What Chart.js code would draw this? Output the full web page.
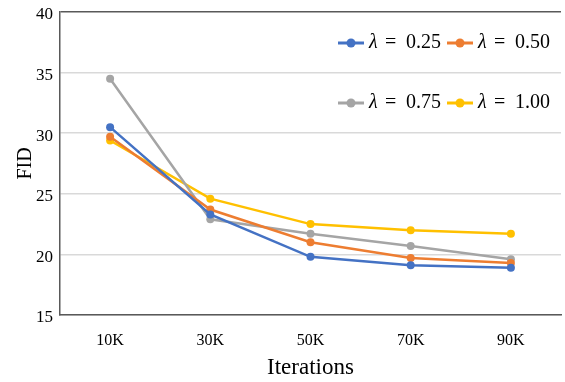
<!DOCTYPE html>
<html lang="en">
<head>
    <meta charset="UTF-8">
    <title>FID vs Iterations</title>
    <script src="https://cdn.jsdelivr.net/npm/chart.js"></script>
    <style>
        html, body {
            margin: 0;
            padding: 0;
            width: 565px;
            height: 382px;
            background: #ffffff;
            overflow: hidden;
        }
    </style>
</head>
<body>
    <canvas id="fidChart" width="565" height="382"></canvas>
    <script>
        const iterations = ['10K', '30K', '50K', '70K', '90K'];
        const lambdaLabels = ['0.25', '0.50', '0.75', '1.00'];
        const fid025 = [30.5, 23.3, 19.8, 19.1, 18.9];
        const fid050 = [29.7, 23.7, 21.0, 19.7, 19.3];
        const fid075 = [34.5, 22.9, 21.7, 20.7, 19.6];
        const fid100 = [29.4, 24.6, 22.5, 22.0, 21.7];
        const yTicks = [15, 20, 25, 30, 35, 40];

        const colors = ['#4472C4', '#ED7D31', '#A5A5A5', '#FFC000'];
        const series = [fid025, fid050, fid075, fid100];

        const serif = "'Liberation Serif', 'Times New Roman', serif";

        // legend drawn inside the plot, two rows at the top right
        const insideLegend = {
            id: 'insideLegend',
            afterDatasetsDraw(chart) {
                const c = chart.ctx;
                const area = chart.chartArea;
                const rows = [[0, 1], [2, 3]];
                const rowY = [area.top + 31, area.top + 91];
                const colX = [area.left + 278, area.left + 387];
                c.save();
                c.textBaseline = 'middle';
                rows.forEach((row, r) => {
                    row.forEach((i, k) => {
                        const x = colX[k];
                        const y = rowY[r];
                        c.strokeStyle = colors[i];
                        c.fillStyle = colors[i];
                        c.lineWidth = 3;
                        c.beginPath();
                        c.moveTo(x, y);
                        c.lineTo(x + 26, y);
                        c.stroke();
                        c.beginPath();
                        c.arc(x + 13, y, 4.5, 0, Math.PI * 2);
                        c.fill();
                        c.fillStyle = '#000000';
                        c.font = 'italic 20px ' + serif;
                        c.fillText('λ', x + 31, y);
                        c.font = '20px ' + serif;
                        c.fillText('=', x + 47, y);
                        c.fillText(lambdaLabels[i], x + 68, y);
                    });
                });
                c.restore();
            }
        };

        new Chart(document.getElementById('fidChart'), {
            type: 'line',
            data: {
                labels: iterations,
                datasets: series.map((vals, i) => ({
                    label: 'λ = ' + lambdaLabels[i],
                    data: vals,
                    borderColor: colors[i],
                    backgroundColor: colors[i],
                    borderWidth: 2.5,
                    pointRadius: 4,
                    pointBackgroundColor: colors[i],
                    pointBorderWidth: 0,
                    tension: 0
                }))
            },
            options: {
                responsive: false,
                animation: false,
                layout: { padding: { top: 12, right: 0, left: 0, bottom: 0 } },
                plugins: {
                    legend: { display: false },
                    tooltip: { enabled: false }
                },
                scales: {
                    x: {
                        offset: true,
                        grid: { display: false, drawTicks: false },
                        border: { color: '#595959', width: 1.5 },
                        ticks: {
                            autoSkip: false,
                            maxRotation: 0,
                            color: '#000000',
                            padding: 16,
                            font: { family: serif, size: 16 }
                        },
                        title: {
                            display: true,
                            text: 'Iterations',
                            color: '#000000',
                            padding: { top: 2, bottom: 0 },
                            font: { family: serif, size: 23 }
                        },
                        afterFit(axis) {
                            axis.height = 67;
                            axis.paddingLeft = 0;
                            axis.paddingRight = 0;
                        }
                    },
                    y: {
                        min: 15,
                        max: 40,
                        afterBuildTicks(axis) {
                            axis.ticks = yTicks.map(v => ({ value: v }));
                        },
                        grid: {
                            drawTicks: false,
                            color: ctx => ctx.tick && ctx.tick.value === 40 ? '#595959' : '#D9D9D9',
                            lineWidth: 1.5
                        },
                        border: { color: '#595959', width: 1.5 },
                        ticks: {
                            autoSkip: false,
                            color: '#000000',
                            padding: 7,
                            labelOffset: 3,
                            font: { family: serif, size: 17 }
                        },
                        title: {
                            display: true,
                            text: 'FID',
                            color: '#000000',
                            padding: { top: 14, bottom: 0 },
                            font: { family: serif, size: 20 }
                        },
                        afterFit(axis) {
                            axis.width = 60;
                            axis.paddingTop = 0;
                            axis.paddingBottom = 0;
                        }
                    }
                }
            },
            plugins: [insideLegend]
        });
    </script>
</body>
</html>
